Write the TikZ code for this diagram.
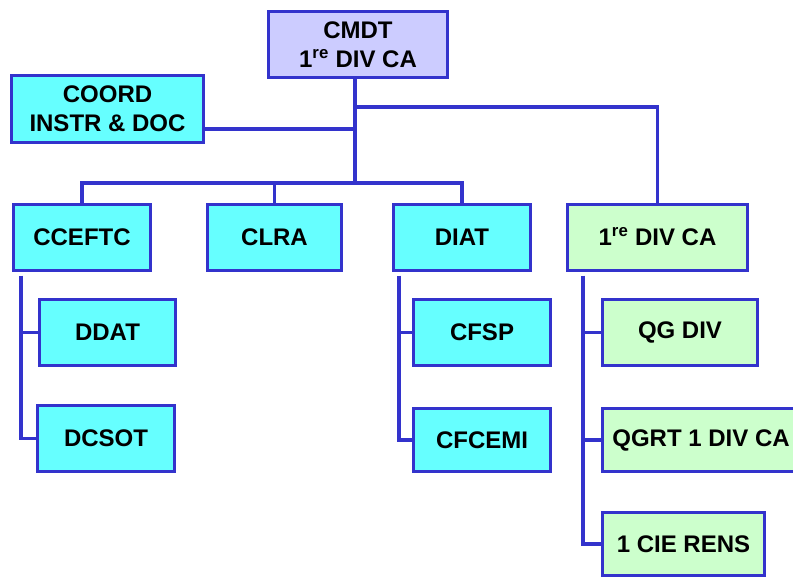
\documentclass[tikz,border=0pt]{standalone}
\usepackage{fontspec}
\setmainfont{Liberation Sans}
\usepackage{tikz}

\definecolor{framecol}{RGB}{51,51,204}
\definecolor{cyanbox}{RGB}{102,255,255}
\definecolor{greenbox}{RGB}{204,255,204}
\definecolor{lavbox}{RGB}{204,204,255}

\begin{document}
\begin{tikzpicture}[
        x=1pt, y=-1pt,
        unitbox/.style={draw=framecol, line width=3pt, fill=cyanbox, inner sep=0pt,
            minimum height=66pt, align=center,
            font=\fontsize{24}{29}\selectfont\bfseries},
        divbox/.style={unitbox, fill=greenbox},
        link/.style={draw=framecol, line width=3.5pt}
    ]
        \useasboundingbox (0,0) rectangle (793,578);
        % top
        \node (cmdt) at (358, 44.5) [unitbox, fill=lavbox, minimum width=179pt] {CMDT\\1\textsuperscript{re} DIV CA};
        \node (coord) at (107.5, 109) [unitbox, minimum width=192pt, minimum height=67pt] {COORD\\INSTR \& DOC};
        % second level
        \node (cceftc) at (82, 237) [unitbox, minimum width=137pt] {CCEFTC};
        \node (clra) at (274.5, 237) [unitbox, minimum width=134pt] {CLRA};
        \node (diat) at (462, 237) [unitbox, minimum width=137pt] {DIAT};
        \node (div) at (657.5, 237) [divbox, minimum width=180pt] {1\textsuperscript{re} DIV CA};
        % third level
        \node (ddat) at (107.5, 332.5) [unitbox, minimum width=136pt] {DDAT};
        \node (dcsot) at (106, 438.5) [unitbox, minimum width=137pt] {DCSOT};
        \node (cfsp) at (482, 332.5) [unitbox, minimum width=137pt] {CFSP};
        \node (cfcemi) at (482, 440) [unitbox, minimum width=137pt, minimum height=63pt] {CFCEMI};
        \node (qgdiv) at (680, 332.5) [divbox, minimum width=155pt] {QG DIV};
        \node (qgrt) at (701, 440) [divbox, minimum width=197pt, minimum height=63pt] {QGRT 1\ DIV CA};
        \node (cie) at (683.5, 544) [divbox, minimum width=162pt, minimum height=63pt] {1 CIE RENS};

        % connectors
        \coordinate (bus) at (355, 183);
        \coordinate (tap) at (355, 107);
        \draw[link] (cmdt.south -| bus) -- (bus);
        \draw[link] ([yshift=-20pt]coord.east) -- ([yshift=-20pt]coord.east -| bus);
        \draw[link] (tap) -| (div.north);
        \draw[link] (cceftc.north) |- (bus) -| (diat.north);
        \draw[link] (clra.north) -- (clra.north |- bus);

        \coordinate (ccefdown) at ([xshift=9pt, yshift=-4pt]cceftc.south west);
        \draw[link] (ccefdown) |- (dcsot.west);
        \draw[link] (ccefdown |- ddat.west) -- (ddat.west);

        \coordinate (diatdown) at ([xshift=7pt, yshift=-4pt]diat.south west);
        \draw[link] (diatdown) |- (cfcemi.west);
        \draw[link] (diatdown |- cfsp.west) -- (cfsp.west);

        \coordinate (divdown) at ([xshift=17pt, yshift=-4pt]div.south west);
        \draw[link] (divdown) |- (cie.west);
        \draw[link] (divdown |- qgdiv.west) -- (qgdiv.west);
        \draw[link] (divdown |- qgrt.west) -- (qgrt.west);
    \end{tikzpicture}
\end{document}
